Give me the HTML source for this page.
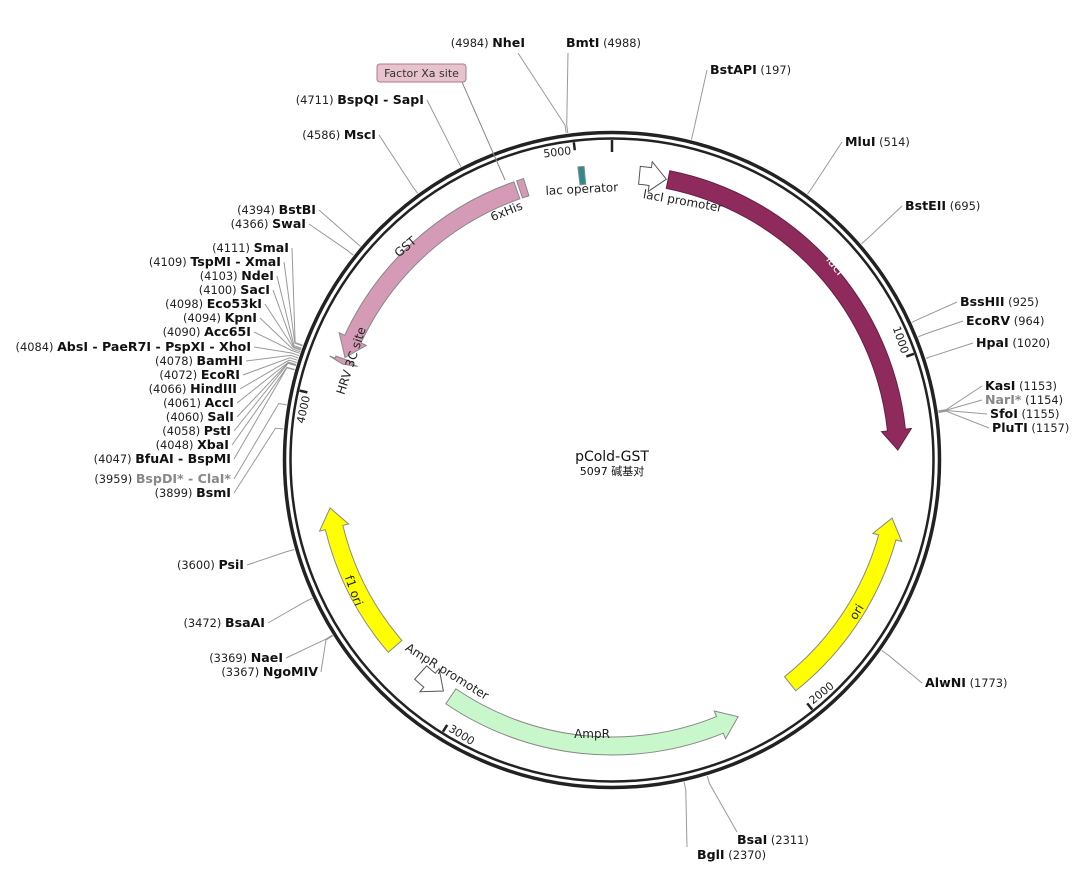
<!DOCTYPE html>
<html><head><meta charset="utf-8">
<style>
html,body{margin:0;padding:0;background:#fff;}
svg{display:block;font-family:"DejaVu Sans","Liberation Sans","Noto Sans CJK SC",sans-serif;}
.nm{font-weight:bold;font-size:12.6px;fill:#111;}
.ps{font-size:11.4px;fill:#222;}
.gr{fill:#888;}
.fl{font-size:12px;fill:#222;}
</style></head>
<body>
<svg id="map" width="1088" height="870" viewBox="0 0 1088 870">
<g id="ring">
<circle cx="612" cy="460" r="327.5" fill="none" stroke="#222" stroke-width="3.5"/>
<circle cx="612" cy="460" r="321.5" fill="none" stroke="#222" stroke-width="2.5"/>
</g>
<g id="ticks"></g>
<g id="feats"></g>
<g id="sites"></g>
<g>
<line x1="462" y1="82" x2="505" y2="180" stroke="#888" stroke-width="1"/>
<rect x="377" y="64" width="89" height="18" rx="3" fill="#e6c3cd" stroke="#b07888"/>
<text x="421.5" y="77" text-anchor="middle" style="font-size:11px;fill:#333">Factor Xa site</text>
</g>
<text x="612" y="461" text-anchor="middle" style="font-size:14px;fill:#111">pCold-GST</text>
<text x="612" y="475" text-anchor="middle" style="font-size:11px;fill:#111">5097 碱基对</text>
</svg>
<script>
const TOTAL = 5097;
const featNames = ["lacI promoter","lacI","lac operator","GST","6xHis","HRV 3C site","ori","AmpR","AmpR promoter","f1 ori"];
const featStart = [78, 160, 5003, 4822, 4830, 4100, 1440, 2178, 3060, 3247];
const featEnd   = [155, 1246, 5020, 4120, 4850, 4115, 2003, 3034, 3143, 3686];
const featDir   = [1, 1, 0, -1, 0, -1, -1, -1, -1, 1];
const featFill  = ["#fff","#8f2b5c","#2d8c8c","#d49ab6","#d49ab6","#d49ab6","#ffff00","#c9f7cc","#fff","#ffff00"];
const tickVals = [0,1000,2000,3000,4000,5000];
const siteNames = ["BstAPI","MluI","BstEII","BssHII","EcoRV","HpaI","KasI","NarI*","SfoI","PluTI","AlwNI","BsaI","BglI","NgoMIV","NaeI","BsaAI","PsiI","BsmI","BspDI* - ClaI*","BfuAI - BspMI","XbaI","PstI","SalI","AccI","HindIII","EcoRI","BamHI","AbsI - PaeR7I - PspXI - XhoI","Acc65I","KpnI","Eco53kI","SacI","NdeI","TspMI - XmaI","SmaI","SwaI","BstBI","MscI","BspQI - SapI","NheI","BmtI"];
const sitePos = [197,514,695,925,964,1020,1153,1154,1155,1157,1773,2311,2370,3367,3369,3472,3600,3899,3959,4047,4048,4058,4060,4061,4066,4072,4078,4084,4090,4094,4098,4100,4103,4109,4111,4366,4394,4586,4711,4984,4988];
// label layout (x, y, side) -- presentation only
const labelLayout = [[710,74,"r"],[845,146,"r"],[905,210,"r"],[960,306,"r"],[966,325,"r"],[976,347,"r"],[985,390,"r"],[985,404,"r"],[990,418,"r"],[992,432,"r"],[925,687,"r"],[737,844,"r"],[697,859,"r"],[318,676,"l"],[283,662,"l"],[265,627,"l"],[244,569,"l"],[231,497,"l"],[231,483,"l"],[231,463,"l"],[229,449,"l"],[231,435,"l"],[234,421,"l"],[234,407,"l"],[237,393,"l"],[240,379,"l"],[243,365,"l"],[251,351,"l"],[251,336,"l"],[257,322,"l"],[262,308,"l"],[270,294,"l"],[274,280,"l"],[281,266,"l"],[289,252,"l"],[306,228,"l"],[316,214,"l"],[376,139,"l"],[424,104,"l"],[525,47,"l"],[566,47,"r"]];
const grayNames = ["NarI*","BspDI* - ClaI*"];

const CX=612, CY=460, NS="http://www.w3.org/2000/svg";
function ang(p){return p/TOTAL*2*Math.PI;}
function pt(p,r){const a=ang(p);return [CX+r*Math.sin(a), CY-r*Math.cos(a)];}
function mk(tag,attrs,parent){const e=document.createElementNS(NS,tag);for(const k in attrs)e.setAttribute(k,attrs[k]);parent.appendChild(e);return e;}

// ticks
const tg=document.getElementById('ticks');
tickVals.forEach(v=>{
  const a=pt(v,320), b=pt(v,v===0?308:312);
  const l=mk('line',{x1:a[0],y1:a[1],x2:b[0],y2:b[1],stroke:'#222','stroke-width':2.5},tg);
  
  
  if(v>0){
    const q=pt(v-45,317), deg=v/TOTAL*360;
    let rot=deg; if(deg>90&&deg<270) rot=deg-180;
    const t=mk('text',{x:q[0],y:q[1],'text-anchor':'middle',transform:`rotate(${rot} ${q[0]} ${q[1]})`,style:'font-size:11px;fill:#222','dominant-baseline':(deg>90&&deg<270)?'auto':'hanging'},tg);
    t.textContent=v;
    
    
  }
});

// features
const fg=document.getElementById('feats');
const RI=277, RO=295, RM=286;
function arcPath(s,e,dir){
  let a0=ang(s), a1=ang(e); if(a1<a0) a1+=2*Math.PI;
  const P=(a,r)=>[CX+r*Math.sin(a),CY-r*Math.cos(a)];
  const head=Math.min(20/RM,(a1-a0)*0.6);
  let d;
  if(dir===0){
    const p1=P(a0,RO),p2=P(a1,RO),p3=P(a1,RI),p4=P(a0,RI);
    d=`M${p1}A${RO},${RO} 0 0 1 ${p2}L${p3}A${RI},${RI} 0 0 0 ${p4}Z`;
  } else if(dir===1){
    const b=a1-head, lg=(b-a0)>Math.PI?1:0;
    const p1=P(a0,RO),p2=P(b,RO),h1=P(b,RO+6),tip=P(a1,RM),h2=P(b,RI-6),p3=P(b,RI),p4=P(a0,RI);
    d=`M${p1}A${RO},${RO} 0 ${lg} 1 ${p2}L${h1}L${tip}L${h2}L${p3}A${RI},${RI} 0 ${lg} 0 ${p4}Z`;
  } else {
    const b=a0+head, lg=(a1-b)>Math.PI?1:0;
    const p1=P(a1,RO),p2=P(b,RO),h1=P(b,RO+6),tip=P(a0,RM),h2=P(b,RI-6),p3=P(b,RI),p4=P(a1,RI);
    d=`M${p1}A${RO},${RO} 0 ${lg} 0 ${p2}L${h1}L${tip}L${h2}L${p3}A${RI},${RI} 0 ${lg} 1 ${p4}Z`;
  }
  return d;
}
featNames.forEach((n,i)=>{
  let s=featStart[i], e=featEnd[i], dir=featDir[i];
  if(dir===-1 || (dir===0 && e<s)){ const t=s; s=Math.min(s,e); e=Math.max(t,e); }
  const stroke = (featFill[i]==="#fff")?"#555":(featFill[i]==="#8f2b5c"?"#6a1d44":"#888");
  const p=mk('path',{d:arcPath(s,e,dir),fill:featFill[i],stroke:stroke,'stroke-width':1},fg);
  
  
});
const flabels=[["lacI promoter",682,205,10,"#222"],["lacI",832,268,52,"#fff"],["lac operator",582,193,-3,"#222"],["GST",408,250,-40,"#222"],["6xHis",508,215,-22,"#222"],["HRV 3C site",355,362,-72,"#222"],["ori",860,614,-58,"#222"],["AmpR",592,738,0,"#222"],["AmpR promoter",445,675,32,"#222"],["f1 ori",350,592,70,"#222"]];
flabels.forEach(f=>{
  const t=mk('text',{x:f[1],y:f[2],'text-anchor':'middle',transform:`rotate(${f[3]} ${f[1]} ${f[2]})`,class:'fl',style:'fill:'+f[4]},fg);
  t.textContent=f[0];
  
  
});

// sites
const sg=document.getElementById('sites');
siteNames.forEach((n,i)=>{
  const pos=sitePos[i], L=labelLayout[i];
  const a=pt(pos,330), b=pt(pos,338);
  const g=mk('g',{},sg);
  
  
  let ex, ey;
  if(n==="NheI"){ex=518;ey=53;} else if(n==="BmtI"){ex=568;ey=53;}
  else if(L[1]>800){ex=L[0]+ (n==="BglI"?-10:0);ey=L[1]-12;}
  else {ex=L[2]==="r"?L[0]-3:L[0]+3; ey=L[1]-4;}
  mk('polyline',{points:`${a} ${b} ${ex},${ey}`,fill:'none',stroke:'#999','stroke-width':1},g);
  const gray=grayNames.includes(n);
  const t=mk('text',{x:L[0],y:L[1],'text-anchor':L[2]==="r"?"start":"end"},g);
  const nm=document.createElementNS(NS,'tspan'); nm.setAttribute('class','nm'+(gray?' gr':'')); nm.textContent=n;
  const ps=document.createElementNS(NS,'tspan'); ps.setAttribute('class','ps'); ps.textContent='('+pos+')';
  const sp=document.createElementNS(NS,'tspan'); sp.setAttribute('class','ps'); sp.textContent='  ';
  if(L[2]==="r"){t.appendChild(nm);t.appendChild(sp);t.appendChild(ps);} else {t.appendChild(ps);t.appendChild(sp);t.appendChild(nm);}
  t.setAttribute('xml:space','preserve');
});
</script>
</body></html>
